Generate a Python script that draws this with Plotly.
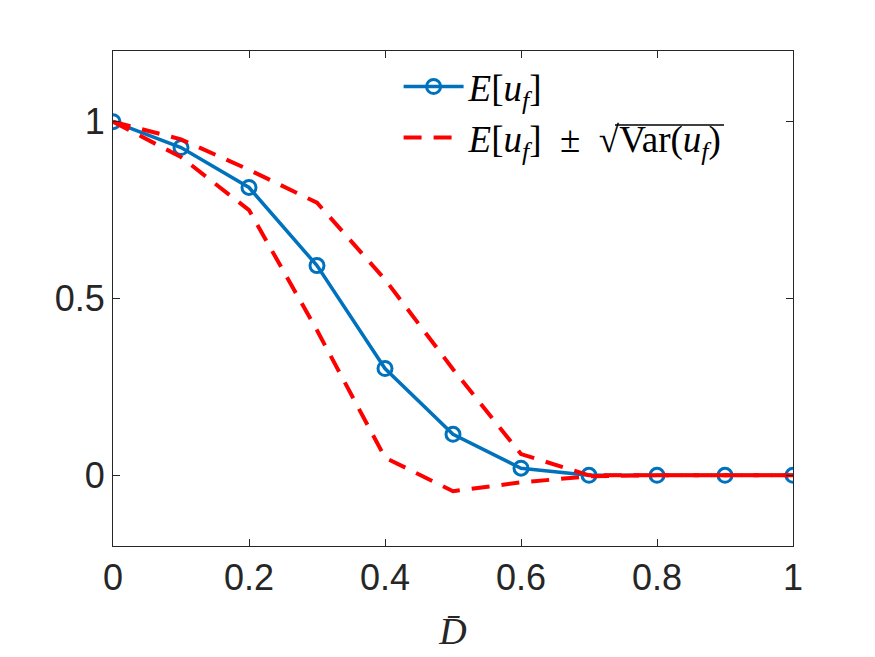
import plotly.graph_objects as go

x_vals = [0, 0.1, 0.2, 0.3, 0.4, 0.5, 0.6, 0.7, 0.8, 0.9, 1.0]
mean_vals = [1.0, 0.927, 0.814, 0.593, 0.302, 0.116, 0.02, 0.0, 0.0, 0.0, 0.0]
upper_vals = [1.0, 0.95, 0.864, 0.771, 0.554, 0.30, 0.06, 0.0, 0.0, 0.0, 0.0]
lower_vals = [1.0, 0.90, 0.75, 0.41, 0.05, -0.045, -0.02, -0.003, 0.0, 0.0, 0.0]

x_ticks = [0, 0.2, 0.4, 0.6, 0.8, 1]
x_ticktext = ["0", "0.2", "0.4", "0.6", "0.8", "1"]
y_ticks = [0, 0.5, 1]
y_ticktext = ["0", "0.5", "1"]

blue = "#0072BD"
red = "#FF0000"

fig = go.Figure()
fig.add_trace(go.Scatter(
    x=x_vals, y=mean_vals, mode="lines+markers",
    line=dict(color=blue, width=3.5),
    marker=dict(symbol="circle-open", size=14, color=blue, line=dict(width=3, color=blue)),
    name="<i>E</i>[<i>u<sub>f</sub></i>]",
))
fig.add_trace(go.Scatter(
    x=x_vals, y=upper_vals, mode="lines",
    line=dict(color=red, width=4, dash="18px,12px"),
    name="<i>E</i>[<i>u<sub>f</sub></i>]  ±  √Var(<i>u<sub>f</sub></i>)",
    legendgroup="sd",
))
fig.add_trace(go.Scatter(
    x=x_vals, y=lower_vals, mode="lines",
    line=dict(color=red, width=4, dash="18px,12px"),
    showlegend=False, legendgroup="sd",
))

axis_common = dict(
    showgrid=False, zeroline=False, showline=True, mirror="ticks",
    linecolor="#262626", linewidth=1, ticks="inside", ticklen=7,
    tickcolor="#262626", tickfont=dict(family="Liberation Sans", size=36, color="#262626"),
)

# vinculum of the square root in the legend label (text decoration, paper coords)
def px_x(p):
    return (p - 113) / 680.0

def px_y(p):
    return (546 - p) / 495.0

fig.add_shape(type="line", xref="paper", yref="paper",
              x0=px_x(615), x1=px_x(724), y0=px_y(125), y1=px_y(125),
              line=dict(color="black", width=1.5))

fig.update_layout(
    width=875, height=657,
    margin=dict(l=113, r=82, t=51, b=111),
    paper_bgcolor="white", plot_bgcolor="white",
    font=dict(family="Liberation Sans", size=36, color="#262626"),
    xaxis=dict(range=[0, 1], tickvals=x_ticks, ticktext=x_ticktext,
               title=dict(text="<i>D̄</i>", font=dict(family="Liberation Serif", size=38, color="#262626"), standoff=20),
               **axis_common),
    yaxis=dict(range=[-0.2, 1.2], tickvals=y_ticks, ticktext=y_ticktext, **axis_common),
    legend=dict(x=0.42, y=0.99, xanchor="left", yanchor="top",
                bgcolor="rgba(255,255,255,0)", borderwidth=0,
                font=dict(family="Liberation Serif", size=37, color="black"),
                itemwidth=60, tracegroupgap=0),
    showlegend=True,
)

fig.write_html("out.html")
